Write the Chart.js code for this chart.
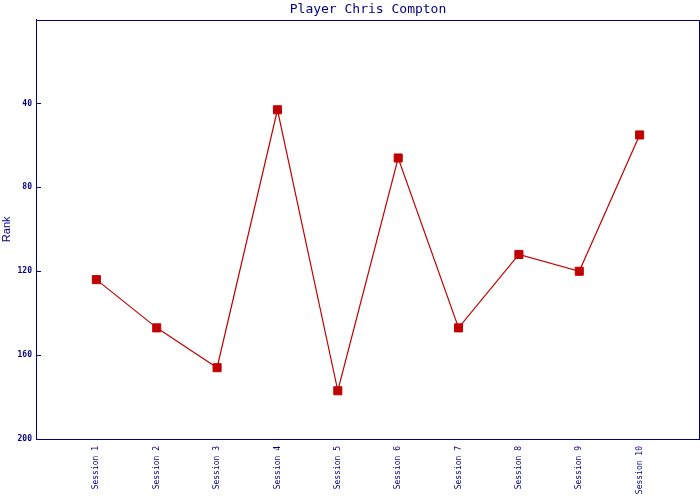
<!DOCTYPE html>
<html>
<head>
<meta charset="utf-8">
<script src="https://cdn.jsdelivr.net/npm/chart.js@4"></script>
<style>
	html, body { margin: 0; padding: 0; background: #fff; }
	#wrap { width: 700px; height: 500px; }
</style>
</head>
<body>
<div id="wrap"><canvas id="grRank" width="700" height="500"></canvas></div>
<script>
var sessions = ["Session 1", "Session 2", "Session 3", "Session 4", "Session 5",
	"Session 6", "Session 7", "Session 8", "Session 9", "Session 10"];
var ranks = [124, 147, 166, 43, 177, 66, 147, 112, 120, 55];
var rankTicks = [40, 80, 120, 160, 200];

var navy = '#000080';
var red = '#c00000';

// points sit at 1..10 on a 0..11 axis
var points = [];
for (var i = 0; i < ranks.length; i++) {
	points.push({x: i + 1, y: ranks[i]});
}

var frame = {
	id: 'frame',
	beforeDatasetsDraw: function(chart) {
		var a = chart.chartArea;
		var ctx = chart.ctx;
		ctx.save();
		ctx.strokeStyle = navy;
		ctx.lineWidth = 1;
		ctx.strokeRect(Math.round(a.left) + 0.5, Math.round(a.top) + 0.5,
			Math.round(a.right - a.left) - 1, Math.round(a.bottom - a.top));
		ctx.restore();
	}
};

var config = {
	type: 'line',
	data: {
		datasets: [{
			label: 'Rank',
			data: points,
			borderColor: red,
			backgroundColor: red,
			borderWidth: 1.2,
			pointStyle: 'rect',
			pointRadius: 5.7,
			pointBorderWidth: 1,
			pointBorderColor: red,
			pointBackgroundColor: red,
			tension: 0
		}]
	},
	options: {
		responsive: false,
		animation: false,
		layout: { autoPadding: false, padding: { right: 0, top: 0 } },
		plugins: {
			legend: { display: false },
			tooltip: { enabled: false },
			title: {
				display: true,
				text: 'Player Chris Compton',
				color: navy,
				fullSize: false,
				font: { family: 'DejaVu Sans Mono', size: 13, weight: 'normal' },
				padding: { top: 2, bottom: 2 }
			}
		},
		scales: {
			x: {
				type: 'linear',
				min: 0,
				max: 11,
				afterBuildTicks: function(scale) {
					scale.ticks = sessions.map(function(s, i) { return {value: i + 1}; });
				},
				afterFit: function(scale) {
					scale.height = 61;
				},
				grid: { display: false, drawTicks: false },
				border: { color: navy, width: 1 },
				ticks: {
					autoSkip: false,
					minRotation: 90,
					maxRotation: 90,
					padding: 7,
					color: navy,
					font: { family: 'DejaVu Sans Mono', size: 8 },
					callback: function(v) { return sessions[v - 1] || ''; }
				}
			},
			y: {
				reverse: true,
				min: 0,
				max: 200,
				afterBuildTicks: function(scale) {
					scale.ticks = rankTicks.map(function(v) { return {value: v}; });
				},
				afterFit: function(scale) {
					scale.width = 36;
				},
				grid: { drawOnChartArea: false, drawTicks: true, tickLength: -5, color: navy },
				border: { color: navy, width: 1 },
				title: {
					display: true,
					text: 'Rank',
					color: navy,
					font: { family: 'Liberation Sans', size: 11 },
					padding: 0
				},
				ticks: {
					padding: 9,
					color: navy,
					font: { family: 'DejaVu Sans Mono', size: 8, weight: 'bold' }
				}
			}
		}
	},
	plugins: [frame]
};

var ctx = document.getElementById('grRank').getContext('2d');
window.rankChart = new Chart(ctx, config);
</script>
</body>
</html>
